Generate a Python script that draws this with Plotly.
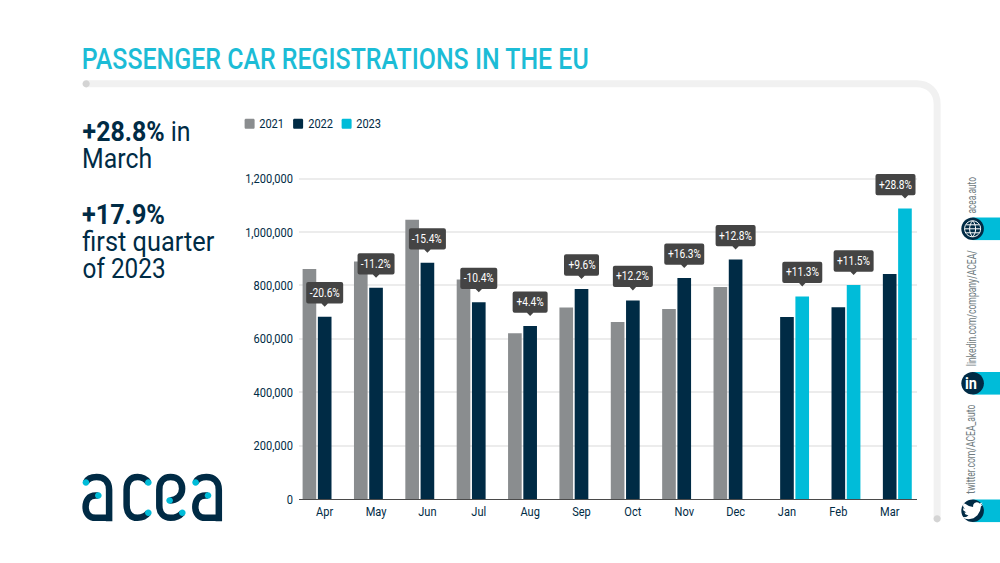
import re
import json
import plotly.graph_objects as go

months = ["Apr","May","Jun","Jul","Aug","Sep","Oct","Nov","Dec","Jan","Feb","Mar"]
v2021 = [862000,890000,1046000,822000,621000,717000,663000,712000,794000,None,None,None]
v2022 = [683000,791000,885000,737000,648000,787000,744000,828000,897000,682000,718000,843000]
v2023 = [None,None,None,None,None,None,None,None,None,759000,802000,1088000]
changes = ["-20.6%","-11.2%","-15.4%","-10.4%","+4.4%","+9.6%","+12.2%","+16.3%","+12.8%","+11.3%","+11.5%","+28.8%"]
tick_vals = [0,200000,400000,600000,800000,1000000,1200000]
tick_text = ["0","200,000","400,000","600,000","800,000","1,000,000","1,200,000"]

NAVY="#002b45"; CYAN="#00bcd9"; GRAY="#8a8d8f"; BOX="#444444"; TITLE="#1cbcd6"; RULE="#f1f1f1"; DOT="#d4d4d4"
FONT="Roboto, sans-serif"

W,H=1000,563
L,R,B=298.75,82.5,63.5
k=320.5/1200000
ymax=1300000
T=H-B-ymax*k
pw=W-L-R; ph=H-T-B
ax0=-L/pw; ay0=(H-B)/ph  # paper position of page origin (0,0)

def page(path):
    return re.sub(r"(-?[\d.]+),(-?[\d.]+)", lambda m:f"{float(m[1]):.2f},{-float(m[2]):.2f}", path)

shapes=[]; ann=[]
def deco(path,fill=None,line=None,lw=0):
    s=dict(type="path",xref="paper",yref="paper",xsizemode="pixel",ysizemode="pixel",
           xanchor=ax0,yanchor=ay0,path=page(path),layer="above",
           line=dict(width=lw,color=line or "rgba(0,0,0,0)"),
           fillcolor=fill or "rgba(0,0,0,0)")
    shapes.append(s)
def circ(x,y,r,fill):
    c=0.5523*r
    deco(f"M{x-r},{y} C{x-r},{y-c} {x-c},{y-r} {x},{y-r} C{x+c},{y-r} {x+r},{y-c} {x+r},{y} "
         f"C{x+r},{y+c} {x+c},{y+r} {x},{y+r} C{x-c},{y+r} {x-r},{y+c} {x-r},{y} Z",fill=fill)
def text(x,y,t,size,color,anchor="center",font=FONT,angle=0,weight=None):
    f=dict(family=font,size=size,color=color)
    if weight: f["weight"]=weight
    ann.append(dict(xref="paper",yref="paper",x=(x-L)/pw,y=(H-B-y)/ph,text=t,showarrow=False,
                    xanchor=anchor,yanchor="middle",textangle=angle,borderpad=0,font=f))

# frame
deco("M85.5,84 L916,84 C928,84 936.5,92 936.5,104 L936.5,519",line=RULE,lw=7)
circ(85.5,84,3.6,DOT); circ(936.5,519,3.6,DOT)

# title + side text (centres of the reference's text extents)
text(334.5,59,"PASSENGER CAR REGISTRATIONS IN THE EU",30,TITLE,weight=500)
text(136,132,"<b>+28.8%</b> in",27,NAVY)
text(117,159,"March",27,NAVY)
text(123.5,215,"<b>+17.9%</b>",27,NAVY)
text(148,242,"first quarter",27,NAVY)
text(123.5,269,"of 2023",27,NAVY)

# legend
for x,name,col in [(244,"2021",GRAY),(292.5,"2022",NAVY),(341,"2023",CYAN)]:
    deco(f"M{x+1.5},119 L{x+8.5},119 C{x+9.5},119 {x+10},119.5 {x+10},120.5 L{x+10},127.5 "
         f"C{x+10},128.5 {x+9.5},129 {x+8.5},129 L{x+1.5},129 C{x+.5},129 {x},128.5 {x},127.5 "
         f"L{x},120.5 C{x},119.5 {x+.5},119 {x+1.5},119 Z",fill=col)
    text(x+27.5,124,name,13,NAVY)

# social strips
for y in (229,383.5,511):
    deco(f"M972,{y-11.3} L1000,{y-11.3} L1000,{y+11.3} L972,{y+11.3} Z",fill=CYAN)
    circ(972,y,11.3,NAVY)
for pth in ("M964,229 C964,224.5 967.5,221 972,221 C976.5,221 980,224.5 980,229 C980,233.5 976.5,237 972,237 C967.5,237 964,233.5 964,229 Z",
            "M972,221 C968,225 968,233 972,237 C976,233 976,225 972,221 Z",
            "M964,229 L980,229","M965.5,225 L978.5,225","M965.5,233 L978.5,233"):
    deco(pth,line="white",lw=1)
text(972,383.5,"<b>in</b>",17,"white")
bird=[(24,4.6),(21.5,5.4),(23.3,2.6),(20.1,3.8),(18.5,2.6),(16.5,2.1),(14.2,3),(12.7,5),(12.5,7.6),(7.7,6.4),(4.5,4.6),
      (1.6,3.2),(1,5.6),(1.5,8),(3.2,9.7),(.9,9.1),(1.5,11.6),(4.9,13.9),(2.7,14),(3.7,16),(7.3,17.4),(4.5,19),(0,19.5),
      (3.5,21),(7.6,21.7),(13,20.6),(17.5,17),(20.5,12),(21.5,7)]
deco("M"+" L".join(f"{961.5+a*.875:.2f},{500.5+b*.875:.2f}" for a,b in bird)+" Z",fill="white")
text(972.5,195,"acea.auto",12,"#6f7b80",angle=-90)
text(972.5,308.7,"linkedin.com/company/ACEA/",12,"#6f7b80",angle=-90)
text(972,449.5,"twitter.com/ACEA_auto",12,"#6f7b80",angle=-90)

# logo
def a_letter(dx):
    deco(f"M{85.3+dx},482.7 C{87+dx},479 {91+dx},477.3 {96+dx},477.3 C{104+dx},477.3 {108.5+dx},482 {108.5+dx},490 L{108.5+dx},521.5",line=NAVY,lw=6.5)
    deco(f"M{97.7+dx},495.7 L{95+dx},495.7 C{88+dx},495.7 {85+dx},501 {85+dx},507 C{85+dx},514 {89+dx},518 {95+dx},518 L{108.5+dx},518",line=NAVY,lw=6.5)
    circ(85.3+dx,482.7,3.3,CYAN); circ(97.7+dx,495.7,3.3,CYAN)
a_letter(0); a_letter(109.7)
deco("M147.7,482.7 C145,479 141,477.3 137,477.3 C130,477.3 126,482 126,490 L126,505 C126,513 130,518 137,518 C141,518 145,516.5 147.7,513",line=NAVY,lw=6.5)
circ(147.7,482.7,3.3,CYAN); circ(147.7,513,3.3,CYAN)
deco("M181.7,513 C179,516 175,518 170,518 C163,518 158.7,513 158.7,506 L158.7,490 C158.7,482 163,477.3 170,477.3 C177,477.3 181.5,482 181.5,489 C181.5,496 176,500.7 169,500.7",line=NAVY,lw=6.5)
circ(169,500.7,3.3,CYAN); circ(181.7,513,3.3,CYAN)

# callouts
SLOT=15.3
for i,(m,lab) in enumerate(zip(months,changes)):
    last=v2023[i] if v2023[i] is not None else v2022[i]
    dx=SLOT if v2023[i] is not None else 0
    hw=20 if lab[0]=="+" and len(lab)==6 else (18.5 if len(lab)==6 else 17.5)
    cx=dx if m!="Mar" else dx-9.5
    up0,up1=13.3,34.6
    r=2
    path=(f"M{dx},10 L{dx+3.2},{up0} L{cx+hw-r},{up0} Q{cx+hw},{up0} {cx+hw},{up0+r} L{cx+hw},{up1-r} Q{cx+hw},{up1} {cx+hw-r},{up1} "
          f"L{cx-hw+r},{up1} Q{cx-hw},{up1} {cx-hw},{up1-r} L{cx-hw},{up0+r} Q{cx-hw},{up0} {cx-hw+r},{up0} L{dx-3.2},{up0} Z")
    shapes.append(dict(type="path",xref="x",yref="y",xsizemode="pixel",ysizemode="pixel",xanchor=m,yanchor=last,
                       path=path,fillcolor=BOX,line=dict(width=0),layer="above"))
    ann.append(dict(xref="x",yref="y",x=m,y=last,text=lab,showarrow=False,xshift=cx,yshift=24,
                    xanchor="center",yanchor="middle",font=dict(family=FONT,size=12,color="white")))

fig=go.Figure()
for name,vals,col in [("2021",v2021,GRAY),("2022",v2022,NAVY),("2023",v2023,CYAN)]:
    fig.add_bar(name=name,x=months,y=vals,marker=dict(color=col,line=dict(width=0)),hoverinfo="x+y+name")
fig.update_layout(width=W,height=H,autosize=False,margin=dict(l=L,r=R,t=T,b=B,pad=0),
    paper_bgcolor="white",plot_bgcolor="white",showlegend=False,barmode="group",bargap=0.109,bargroupgap=0.105,
    shapes=shapes,annotations=ann,font=dict(family=FONT,color=NAVY))
fig.update_xaxes(type="category",showgrid=False,showline=True,linecolor="#4a4a4a",linewidth=1,ticks="",
                 tickfont=dict(family=FONT,size=13,color=NAVY),zeroline=False)
fig.update_yaxes(range=[0,ymax],tickvals=tick_vals,ticktext=tick_text,gridcolor="#ececec",gridwidth=1.5,zeroline=False,
                 showline=False,ticks="",ticklabelstandoff=5,tickfont=dict(family=FONT,size=13,color=NAVY))
# no condensed face is installed: narrow the real text to the reference's condensed widths
widths={"PASSENGER CAR REGISTRATIONS IN THE EU":507,"+28.8% in":108,"March":70,"+17.9%":83,"first quarter":132,"of 2023":83,
        "acea.auto":36.6,"linkedin.com/company/ACEA/":116,"twitter.com/ACEA_auto":89}
post = """
document.body.style.margin='0';
var widths=%s;
document.querySelectorAll('svg text').forEach(function(t){
  var n=t.getComputedTextLength();
  var w=widths[t.textContent]||n*0.85;
  if(n>0){t.setAttribute('textLength',w.toFixed(2));t.setAttribute('lengthAdjust','spacingAndGlyphs');}
});
""" % json.dumps(widths)
fig.write_html("out.html",post_script=post,config={"displayModeBar":False})
